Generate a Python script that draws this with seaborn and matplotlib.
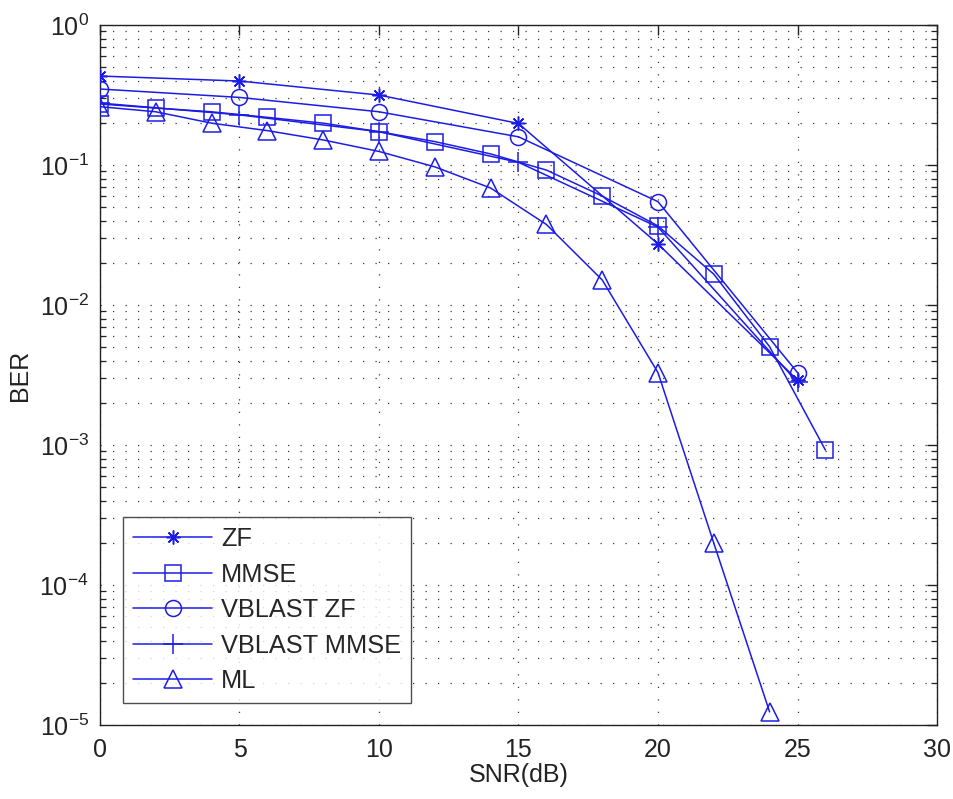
import numpy as np
import pandas as pd
import matplotlib
matplotlib.use("Agg")
import matplotlib.pyplot as plt
import seaborn as sns
from matplotlib.ticker import LogLocator, FixedLocator, NullLocator

# BER vs SNR for several MIMO detectors
snr_zf = [0, 5, 10, 15, 20, 25]
ber_zf = [0.432, 0.398, 0.316, 0.198, 0.0273, 0.00291]

snr_mmse = [0, 2, 4, 6, 8, 10, 12, 14, 16, 18, 20, 22, 24, 26]
ber_mmse = [0.273, 0.255, 0.240, 0.219, 0.199, 0.173, 0.147, 0.120,
            0.092, 0.060, 0.0367, 0.0166, 0.00504, 0.00092]

snr_vzf = [0, 5, 10, 15, 20, 25]
ber_vzf = [0.349, 0.304, 0.240, 0.159, 0.0547, 0.00329]

snr_vmmse = [0, 5, 10, 15, 20, 25]
ber_vmmse = [0.277, 0.228, 0.173, 0.1045, 0.036, 0.0028]

snr_ml = [0, 2, 4, 6, 8, 10, 12, 14, 16, 18, 20, 22, 24]
ber_ml = [0.261, 0.240, 0.199, 0.176, 0.151, 0.125, 0.097, 0.0685,
          0.0376, 0.0151, 0.00329, 0.000199, 1.24e-5]

labels = ["ZF", "MMSE", "VBLAST ZF", "VBLAST MMSE", "ML"]
x_ticks = [0, 5, 10, 15, 20, 25, 30]

sns.set_theme(style="white")
plt.rcParams["font.family"] = ["Liberation Sans", "DejaVu Sans"]
plt.rcParams["mathtext.fontset"] = "custom"
plt.rcParams["mathtext.rm"] = "Liberation Sans"
plt.rcParams["mathtext.it"] = "Liberation Sans:italic"
plt.rcParams["mathtext.bf"] = "Liberation Sans:bold"

fig = plt.figure(figsize=(9.54, 7.99), dpi=100)
ax = fig.add_axes([0.1048, 0.0926, 0.9822 - 0.1048, 0.9687 - 0.0926])

blue = "#1c1ce6"
series = [
    (snr_zf, ber_zf, (8, 2, 0), 10),
    (snr_mmse, ber_mmse, "s", 11.5),
    (snr_vzf, ber_vzf, "o", 11.5),
    (snr_vmmse, ber_vmmse, "+", 15),
    (snr_ml, ber_ml, "^", 13),
]

for (xs, ys, mk, ms), lab in zip(series, labels):
    df = pd.DataFrame({"SNR": xs, "BER": ys})
    sns.lineplot(data=df, x="SNR", y="BER", ax=ax, color=blue, lw=1.1,
                 marker=mk, markersize=ms, markerfacecolor="none",
                 markeredgecolor=blue, markeredgewidth=1.1, label=lab,
                 sort=False, estimator=None, zorder=3)

ax.set_yscale("log")
ax.set_xlim(0, 30)
ax.set_ylim(1e-5, 1)
ax.xaxis.set_major_locator(FixedLocator(x_ticks))
ax.xaxis.set_minor_locator(NullLocator())
ax.set_xticklabels([str(t) for t in x_ticks])
ax.yaxis.set_major_locator(LogLocator(base=10, numticks=10))
ax.yaxis.set_minor_locator(LogLocator(base=10, subs=np.arange(2, 10), numticks=20))

grid_style = dict(color="#3a3a3a", linestyle=(0, (1, 9)), linewidth=0.9)
ax.grid(True, which="major", axis="both", **grid_style)
ax.grid(True, which="minor", axis="y", **grid_style)

for s in ax.spines.values():
    s.set_visible(True)
    s.set_color("#222222")
    s.set_linewidth(1.0)

ax.tick_params(which="major", direction="in", length=7, width=1.0,
               top=True, right=True, labelsize=18, colors="#222222",
               pad=8)
ax.tick_params(which="minor", direction="in", length=4, width=0.9,
               top=False, right=True, left=True, colors="#222222")
ax.tick_params(axis="x", which="major", pad=9)

ax.set_xlabel("SNR(dB)", fontsize=18, labelpad=1, color="#222222")
ax.set_ylabel("BER", fontsize=18, labelpad=5, color="#222222")

leg = ax.legend(loc="lower left", bbox_to_anchor=(0.0275, 0.031),
                borderaxespad=0, fontsize=18.3, frameon=True, fancybox=False,
                handlelength=3.1, handletextpad=0.35, labelspacing=0.45,
                borderpad=0.4)
leg.get_frame().set_edgecolor("#222222")
leg.get_frame().set_linewidth(1.0)

fig.savefig("out.png", dpi=100)
